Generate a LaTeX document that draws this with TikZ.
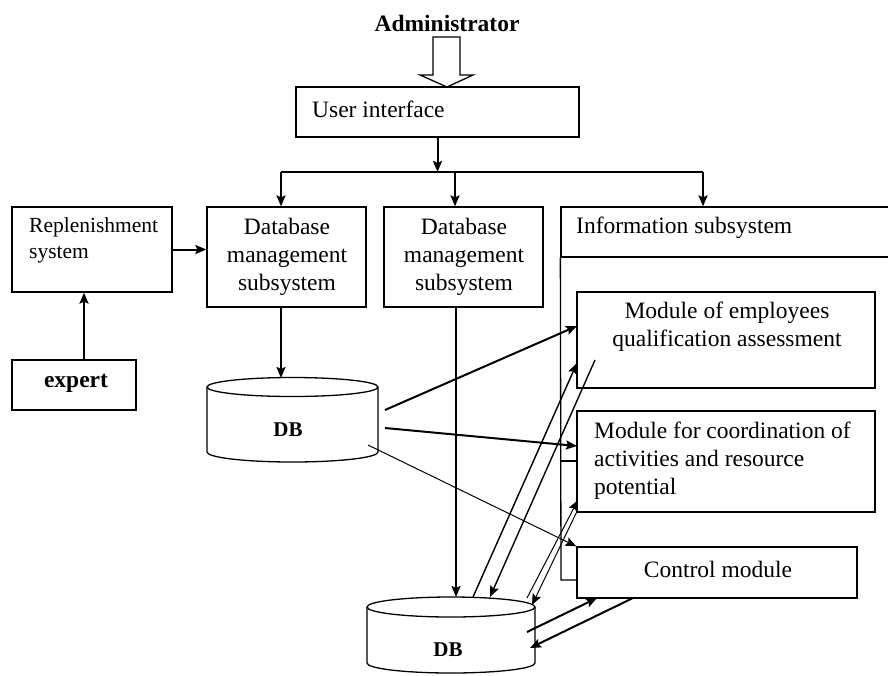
\documentclass[tikz,border=0pt]{standalone}
\usepackage{fontspec}
\setmainfont{Liberation Serif}
\usetikzlibrary{arrows.meta}
\begin{document}
\begin{tikzpicture}[x=1pt,y=-1pt,
  box/.style={draw,line width=1.3pt,inner sep=0pt,rectangle,fill=white},
  txt/.style={font=\fontsize{23.5}{28}\selectfont,inner sep=0pt},
  btxt/.style={font=\fontsize{23.5}{28}\selectfont\bfseries,inner sep=0pt},
  dbtxt/.style={font=\fontsize{21}{24}\selectfont\bfseries,inner sep=0pt},
  conn/.style={line width=2pt,-{Stealth[length=11pt,width=9pt,inset=2pt]}},
  connmid/.style={line width=1.4pt,-{Stealth[length=11pt,width=9pt,inset=2pt]}},
  connthin/.style={line width=1pt,-{Stealth[length=11pt,width=9pt,inset=2pt]}},
  plain/.style={line width=2pt},
  cyl/.style={line width=1.3pt},
  hollow/.style={line width=1.3pt,fill=white}]
\useasboundingbox (0,0) rectangle (888,675);

% title and hollow arrow
\node[btxt] (admin) at (447,23) {Administrator};
\draw[hollow] (433,37) -- (460,37) -- (460,75) -- (473,75) -- (447,87) -- (420,75) -- (433,75) -- cycle;

% boxes
\node[box,minimum width=283pt,minimum height=50pt] (ui) at (437.5,112) {};
\node[txt,anchor=west] (uit) at (312,109) {User interface};

\node[box,minimum width=160pt,minimum height=85pt] (rep) at (92,249.5) {};
\node[txt,anchor=west,align=left,font=\fontsize{21.5}{26}\selectfont] (rept) at (29,240) {Replenishment\\system};

\node[box,minimum width=159pt,minimum height=100pt] (dbm1) at (286.5,257) {};
\node[txt,align=center] (dbm1t) at (287,257) {Database\\management\\subsystem};

\node[box,minimum width=159pt,minimum height=100pt] (dbm2) at (463.5,257) {};
\node[txt,align=center] (dbm2t) at (464,257) {Database\\management\\subsystem};

\node[box,minimum width=124pt,minimum height=50pt] (expert) at (74,385) {};
\node[btxt] (expertt) at (76,383) {expert};

% information subsystem frame
\node[box,minimum width=332pt,minimum height=50pt] (info) at (727,232) {};
\node[txt,anchor=west] (infot) at (576,228) {Information subsystem};
\coordinate (infob) at (561,580);
\coordinate (infobr) at (577,580);
\coordinate (infom) at (561,461);
\coordinate (infomr) at (577,461);
\draw[line width=1.3pt] (info.south west) -- (infob) -- (infobr);
\draw[line width=1.3pt] (infom) -- (infomr);

% modules
\node[box,minimum width=298pt,minimum height=96pt] (mod1) at (726,340) {};
\node[txt,align=center] (mod1t) at (727,327) {Module of employees\\qualification assessment};

\node[box,minimum width=298pt,minimum height=101pt] (mod2) at (726,461.5) {};
\node[txt,anchor=west,align=left] (mod2t) at (594,461) {Module for coordination of\\activities and resource\\potential};

\node[box,minimum width=280pt,minimum height=51pt] (ctrl) at (717,572.5) {};
\node[txt] (ctrlt) at (718,569) {Control module};

% DB cylinders
\draw[cyl,fill=white] (207,387) -- (207,452) arc[start angle=180,end angle=360,x radius=85.5pt,y radius=10pt] -- (378,387);
\draw[cyl,fill=white] (292.5,387) ellipse [x radius=85.5pt,y radius=9.5pt];
\node[dbtxt] (db1) at (288,430) {DB};

\draw[cyl,fill=white] (367,607) -- (367,663) arc[start angle=180,end angle=360,x radius=84pt,y radius=10pt] -- (535,607);
\draw[cyl,fill=white] (451,607) ellipse [x radius=84pt,y radius=10pt];
\node[dbtxt] (db2) at (448,650) {DB};

% top bus
\coordinate (busl) at (281,172);
\coordinate (busc) at (437.5,172);
\coordinate (busm) at (455,172);
\coordinate (busr) at (703,172);
\draw[plain] (busl) -- (busr);
\draw[conn] (ui.south) -- (busc);
\draw[conn] (busl) -- (busl |- dbm1.north);
\draw[conn] (busm) -- (busm |- dbm2.north);
\draw[conn] (busr) -- (busr |- info.north);

% left side
\draw[conn] (rep.east) -- (rep.east -| dbm1.west);
\draw[conn] (expert.north -| 84,0) -- (84,0 |- rep.south);

% down arrows to DBs
\coordinate (db1top) at (281,378);
\coordinate (db2top) at (456,597);
\draw[conn] (dbm1.south -| db1top) -- (db1top);
\draw[conn] (dbm2.south -| db2top) -- (db2top);

% DB1 to modules
\coordinate (d1a) at (385,410);
\coordinate (d1b) at (385,428);
\coordinate (d1c) at (368,445);
\coordinate (m1in) at (577,326);
\coordinate (m2in) at (577,446);
\draw[conn] (d1a) -- (m1in);
\draw[conn] (d1b) -- (m2in);
\draw[connthin] (d1c) -- (ctrl.north west);

% DB2 and module 1
\coordinate (d2a) at (473,597);
\coordinate (m1a) at (577,363);
\coordinate (m1b) at (595,360);
\coordinate (d2b) at (490,597);
\draw[connmid] (d2a) -- (m1a);
\draw[connmid] (m1b) -- (d2b);

% DB2 and module 2
\coordinate (d2c) at (527,598);
\coordinate (m2a) at (578,500);
\coordinate (d2d) at (532,605);
\draw[connthin] (d2c) -- (m2a);
\draw[connthin] (mod2.south west) -- (d2d);

% DB2 and control module
\coordinate (d2e) at (527,632);
\coordinate (c1) at (597,598);
\coordinate (c2) at (633,598);
\coordinate (d2f) at (530,648);
\draw[conn] (d2e) -- (c1);
\draw[conn] (c2) -- (d2f);
\end{tikzpicture}
\end{document}
